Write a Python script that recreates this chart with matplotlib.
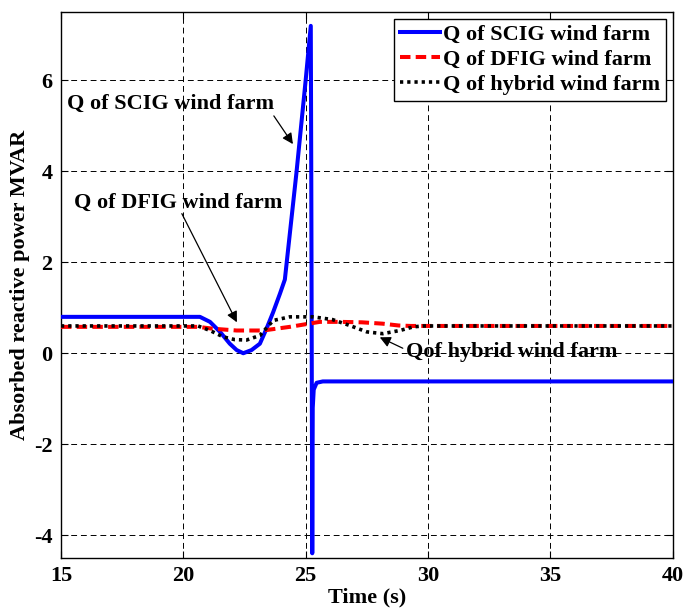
import numpy as np
import matplotlib
matplotlib.use("Agg")
import matplotlib.pyplot as plt

# values
scig_t = [15, 19.86, 20.68, 21.09, 21.5, 21.9, 22.18, 22.45, 22.79, 23.13, 23.4, 23.67,
          23.95, 24.15, 24.63, 25.0, 25.21, 25.23, 25.27, 25.29, 25.33, 25.45, 25.7, 40]
scig_q = [0.8, 0.8, 0.8, 0.69, 0.47, 0.21, 0.07, 0.0, 0.07, 0.21, 0.54, 0.9,
          1.31, 1.62, 4.0, 6.0, 7.2, 3.9, -4.4, -1.2, -0.8, -0.65, -0.62, -0.62]

dfig_t = [15, 19.86, 20.6, 21.2, 22.18, 23.26, 24.35, 25.58, 26.4, 27.3, 28.15, 28.8, 29.3, 40]
dfig_q = [0.58, 0.58, 0.58, 0.54, 0.5, 0.5, 0.58, 0.69, 0.69, 0.68, 0.65, 0.61, 0.6, 0.6]

hyb_t = [15, 19.86, 20.6, 21.09, 21.63, 22.1, 22.58, 23.13, 23.67, 24.35, 25.3, 26.1,
         26.8, 27.5, 28.15, 28.85, 29.4, 29.8, 40]
hyb_q = [0.6, 0.6, 0.6, 0.5, 0.36, 0.3, 0.29, 0.39, 0.72, 0.8, 0.8, 0.74,
         0.61, 0.47, 0.43, 0.5, 0.58, 0.6, 0.6]

xticks = [15, 20, 25, 30, 35, 40]
yticks = [-4, -2, 0, 2, 4, 6]

plt.rcParams['font.family'] = ['Liberation Serif', 'DejaVu Serif']
plt.rcParams['font.weight'] = 'bold'
plt.rcParams['axes.unicode_minus'] = False

fig = plt.figure(figsize=(6.85, 6.11), dpi=100)
ax = fig.add_axes([0.089, 0.087, 0.893, 0.893])

ax.plot(scig_t, scig_q, color='#0000ff', lw=2.9, label='Q of SCIG wind farm', zorder=3)
ax.plot(dfig_t, dfig_q, color='#ff0000', lw=2.9, dashes=(2.6, 1.3), label='Q of DFIG wind farm', zorder=4)
ax.plot(hyb_t, hyb_q, color='k', lw=2.6, dashes=(0.9, 1.1), dash_capstyle='butt',
        label='Q of hybrid wind farm', zorder=5)

ax.set_xlim(15, 40)
ax.set_ylim(-4.5, 7.5)
ax.set_xticks(xticks)
ax.set_yticks(yticks)
ax.tick_params(direction='in', top=True, right=True, labelsize=16, length=5, width=0.8, pad=6)
for s in ax.spines.values():
    s.set_linewidth(1.0)
ax.grid(True, color='k', lw=0.7, dashes=(6, 4))

ax.set_xlabel('Time (s)', fontsize=16, fontweight='bold', labelpad=1)
ax.set_ylabel('Absorbed reactive power MVAR', fontsize=16, fontweight='bold', labelpad=3)

arw = dict(arrowstyle='-|>', color='k', lw=0.9, mutation_scale=16, shrinkA=0, shrinkB=0)
ax.text(15.25, 5.48, 'Q of SCIG wind farm', fontsize=16, fontweight='bold', ha='left', va='center')
ax.annotate('', xy=(24.48, 4.6), xytext=(23.7, 5.22), arrowprops=arw)
ax.text(15.53, 3.31, 'Q of DFIG wind farm', fontsize=16, fontweight='bold', ha='left', va='center')
ax.annotate('', xy=(22.19, 0.68), xytext=(19.94, 3.07), arrowprops=arw)
ax.text(29.09, 0.02, 'Qof hybrid wind farm', fontsize=16, fontweight='bold', ha='left', va='center')
ax.annotate('', xy=(28.03, 0.35), xytext=(28.97, 0.11), arrowprops=arw)

leg = ax.legend(loc='upper right', fontsize=16, handlelength=1.8, handletextpad=0.15,
                labelspacing=0.2, borderpad=0.25, borderaxespad=0.3, fancybox=False,
                framealpha=1, edgecolor='k')
leg.get_frame().set_linewidth(1.0)

fig.savefig('out.png', dpi=100)
